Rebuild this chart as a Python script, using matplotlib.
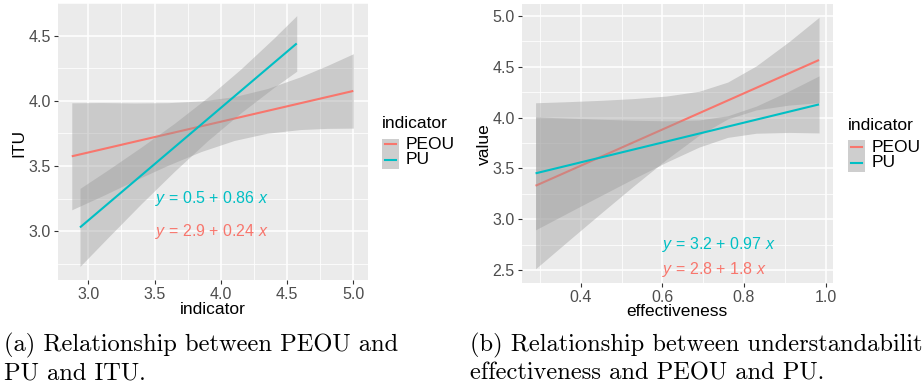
import matplotlib
matplotlib.use("Agg")
import matplotlib.pyplot as plt
from matplotlib.patches import Rectangle
from matplotlib.lines import Line2D

plt.rcParams['font.family'] = ['Liberation Sans', 'DejaVu Sans']
plt.rcParams['mathtext.fontset'] = 'custom'
plt.rcParams['mathtext.rm'] = 'Liberation Sans'
plt.rcParams['mathtext.it'] = 'Liberation Sans:italic'

RED = '#F8766D'
TEAL = '#00BFC4'

# ---------------- panel (a) data ----------------
a_groups = ['PEOU', 'PU']
a_peou_line_x = [2.875, 5.0]
a_peou_line_y = [3.575, 4.076]
a_peou_band_x = [2.875, 3.1, 3.35, 3.6, 3.85, 4.1, 4.35, 4.6, 4.8, 5.0]
a_peou_band_lo = [3.165, 3.269, 3.390, 3.506, 3.611, 3.696, 3.752, 3.780, 3.789, 3.791]
a_peou_band_hi = [3.985, 3.987, 3.984, 3.986, 3.999, 4.032, 4.094, 4.184, 4.269, 4.361]

a_pu_line_x = [2.937, 4.573]
a_pu_line_y = [3.030, 4.440]
a_pu_band_x = [2.937, 3.15, 3.4, 3.65, 3.9, 4.15, 4.4, 4.573]
a_pu_band_lo = [2.731, 2.954, 3.212, 3.460, 3.694, 3.907, 4.102, 4.227]
a_pu_band_hi = [3.329, 3.472, 3.646, 3.828, 4.026, 4.243, 4.480, 4.653]

a_eq_text = [r'$y$ = 0.5 + 0.86 $x$', r'$y$ = 2.9 + 0.24 $x$']
a_eq_pos = [(3.5, 3.255), (3.5, 3.0)]
a_xticks = [3.0, 3.5, 4.0, 4.5, 5.0]
a_yticks = [3.0, 3.5, 4.0, 4.5]
a_xlim = (2.771, 5.111)
a_ylim = (2.627, 4.75)

# ---------------- panel (b) data ----------------
b_peou_line_x = [0.289, 0.984]
b_peou_line_y = [3.330, 4.565]
b_peou_band_x = [0.289, 0.37, 0.45, 0.53, 0.61, 0.69, 0.76, 0.83, 0.91, 0.984]
b_peou_band_lo = [2.515, 2.792, 3.063, 3.330, 3.589, 3.826, 3.986, 4.075, 4.122, 4.146]
b_peou_band_hi = [4.145, 4.156, 4.169, 4.186, 4.211, 4.258, 4.348, 4.507, 4.744, 4.984]

b_pu_line_x = [0.289, 0.984]
b_pu_line_y = [3.452, 4.129]
b_pu_band_x = [0.289, 0.37, 0.45, 0.53, 0.61, 0.69, 0.76, 0.83, 0.91, 0.984]
b_pu_band_lo = [2.897, 3.068, 3.235, 3.401, 3.562, 3.710, 3.805, 3.846, 3.854, 3.849]
b_pu_band_hi = [4.007, 3.994, 3.983, 3.973, 3.968, 3.976, 4.017, 4.112, 4.260, 4.409]

b_eq_text = [r'$y$ = 3.2 + 0.97 $x$', r'$y$ = 2.8 + 1.8 $x$']
b_eq_pos = [(0.6, 2.755), (0.6, 2.51)]
b_xticks = [0.4, 0.6, 0.8, 1.0]
b_yticks = [2.5, 3.0, 3.5, 4.0, 4.5, 5.0]
b_xlim = (0.255, 1.019)
b_ylim = (2.378, 5.115)

W, H = 923, 387
fig = plt.figure(figsize=(W / 100, H / 100), dpi=100)


def fx(px):
    return px / W


def fy(py):
    return 1 - py / H


def style_axes(ax, xticks, yticks, xlim, ylim, xminor, yminor):
    ax.set_facecolor('#EBEBEB')
    for s in ax.spines.values():
        s.set_visible(False)
    ax.set_xlim(*xlim)
    ax.set_ylim(*ylim)
    ax.set_xticks(xticks)
    ax.set_yticks(yticks)
    ax.set_xticks(xminor, minor=True)
    ax.set_yticks(yminor, minor=True)
    ax.set_xticklabels([f'{t:.1f}' for t in xticks])
    ax.set_yticklabels([f'{t:.1f}' for t in yticks])
    ax.grid(True, which='major', color='white', lw=1.1)
    ax.grid(True, which='minor', color='white', lw=0.55)
    ax.set_axisbelow(True)
    ax.tick_params(which='major', length=3, width=0.8, color='#333333',
                   labelcolor='#4D4D4D', labelsize=11.5, pad=2)
    ax.tick_params(which='minor', length=0)


def draw_group(ax, bx, blo, bhi, lx, ly, color, z):
    ax.fill_between(bx, blo, bhi, color='#999999', alpha=0.4, lw=0, zorder=z)
    ax.plot(lx, ly, color=color, lw=1.5, zorder=z + 0.5, solid_capstyle='butt')


def legend(x0, ytitle, ybox0, ybox1, yl1, yl2):
    fig.text(fx(x0), fy(ytitle), 'indicator', fontsize=12.5, va='center', ha='left')
    fig.add_artist(Rectangle((fx(x0), fy(ybox1)), fx(17), (ybox1 - ybox0) / H,
                             transform=fig.transFigure, fc='#CECECE', ec='none'))
    for yl, c, lab in [(yl1, RED, 'PEOU'), (yl2, TEAL, 'PU')]:
        fig.add_artist(Line2D([fx(x0 + 3), fx(x0 + 14)], [fy(yl), fy(yl)],
                              transform=fig.transFigure, color=c, lw=1.5))
        fig.text(fx(x0 + 24), fy(yl), lab, fontsize=12.5, va='center', ha='left')


# panel (a)
axa = fig.add_axes([58 / W, 1 - 280 / H, 310 / W, 277 / H])
style_axes(axa, a_xticks, a_yticks, a_xlim, a_ylim,
           [3.25, 3.75, 4.25, 4.75], [2.75, 3.25, 3.75, 4.25, 4.75])
draw_group(axa, a_peou_band_x, a_peou_band_lo, a_peou_band_hi,
           a_peou_line_x, a_peou_line_y, RED, 2)
draw_group(axa, a_pu_band_x, a_pu_band_lo, a_pu_band_hi,
           a_pu_line_x, a_pu_line_y, TEAL, 3)
for txt, (x, y), c in zip(a_eq_text, a_eq_pos, [TEAL, RED]):
    axa.text(x, y, txt, color=c, fontsize=11.5, ha='left', va='center', zorder=5)
fig.text(fx(213), fy(309), 'indicator', fontsize=12.5, ha='center', va='center')
fig.text(fx(19), fy(143), 'ITU', fontsize=12.5, ha='center', va='center', rotation=90)
legend(382, 123, 139.5, 168.5, 144.5, 160)

# panel (b)
axb = fig.add_axes([521.7 / W, 1 - 282.7 / H, 311.6 / W, 278.7 / H])
style_axes(axb, b_xticks, b_yticks, b_xlim, b_ylim,
           [0.3, 0.5, 0.7, 0.9], [2.75, 3.25, 3.75, 4.25, 4.75])
draw_group(axb, b_peou_band_x, b_peou_band_lo, b_peou_band_hi,
           b_peou_line_x, b_peou_line_y, RED, 2)
draw_group(axb, b_pu_band_x, b_pu_band_lo, b_pu_band_hi,
           b_pu_line_x, b_pu_line_y, TEAL, 3)
for txt, (x, y), c in zip(b_eq_text, b_eq_pos, [TEAL, RED]):
    axb.text(x, y, txt, color=c, fontsize=11.5, ha='left', va='center', zorder=5)
fig.text(fx(677), fy(312), 'effectiveness', fontsize=12.5, ha='center', va='center')
fig.text(fx(484), fy(144), 'value', fontsize=12.5, ha='center', va='center', rotation=90)
legend(848, 125, 139.5, 171.5, 147.5, 163)

# captions (the reference crops the right caption at the image edge)
cap = dict(family='cmr10', fontsize=17.6, va='baseline', ha='left')
fig.text(fx(4), fy(351), '(a) Relationship between PEOU and', **cap)
fig.text(fx(4), fy(380), 'PU and ITU.', **cap)
fig.text(fx(470), fy(351), '(b) Relationship between understandability', **cap)
fig.text(fx(470), fy(380), 'effectiveness and PEOU and PU.', **cap)

fig.savefig('out.png', dpi=100)
